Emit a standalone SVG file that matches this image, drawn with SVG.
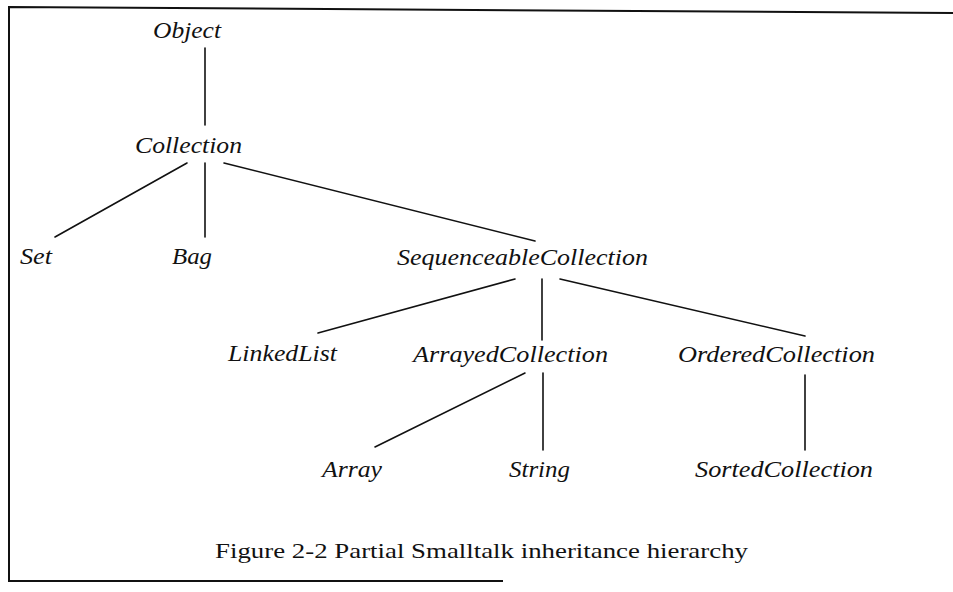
<svg xmlns="http://www.w3.org/2000/svg" width="953" height="592" viewBox="0 0 953 592">
<style>
.lbl{font-family:"Liberation Serif","Times New Roman",serif;font-style:italic;font-size:24px;fill:#111}
.cap{font-family:"Liberation Serif","Times New Roman",serif;font-size:22px;fill:#111}
.edge{stroke:#111;stroke-width:1.6;fill:none;stroke-linecap:round}
.frame{stroke:#111;stroke-width:2;fill:none}
</style>
<rect width="953" height="592" fill="#fff"/>
<g id="frame">
<path class="frame" d="M953,13 L9,7 L9,581 L503,581"/>
</g>
<g id="connectors">
<line class="edge" x1="205" y1="48" x2="205" y2="125"/>
<line class="edge" x1="187" y1="163" x2="55" y2="237"/>
<line class="edge" x1="205" y1="163" x2="205" y2="237"/>
<line class="edge" x1="224" y1="163" x2="535" y2="241"/>
<line class="edge" x1="515" y1="279" x2="318" y2="333"/>
<line class="edge" x1="542" y1="279" x2="542" y2="340"/>
<line class="edge" x1="560" y1="279" x2="805" y2="336"/>
<line class="edge" x1="525" y1="373" x2="375" y2="447"/>
<line class="edge" x1="543" y1="373" x2="543" y2="450"/>
<line class="edge" x1="805" y1="375" x2="805" y2="450"/>
</g>
<g id="Object"><text class="lbl" x="153" y="38" textLength="68" lengthAdjust="spacingAndGlyphs">Object</text></g>
<g id="Collection"><text class="lbl" x="135" y="153" textLength="107" lengthAdjust="spacingAndGlyphs">Collection</text></g>
<g id="Set"><text class="lbl" x="20" y="264" textLength="32" lengthAdjust="spacingAndGlyphs">Set</text></g>
<g id="Bag"><text class="lbl" x="172" y="264" textLength="40" lengthAdjust="spacingAndGlyphs">Bag</text></g>
<g id="SequenceableCollection"><text class="lbl" x="397" y="265" textLength="251" lengthAdjust="spacingAndGlyphs">SequenceableCollection</text></g>
<g id="LinkedList"><text class="lbl" x="228" y="361" textLength="109" lengthAdjust="spacingAndGlyphs">LinkedList</text></g>
<g id="ArrayedCollection"><text class="lbl" x="413" y="362" textLength="195" lengthAdjust="spacingAndGlyphs">ArrayedCollection</text></g>
<g id="OrderedCollection"><text class="lbl" x="678" y="362" textLength="197" lengthAdjust="spacingAndGlyphs">OrderedCollection</text></g>
<g id="Array"><text class="lbl" x="322" y="477" textLength="60" lengthAdjust="spacingAndGlyphs">Array</text></g>
<g id="String"><text class="lbl" x="509" y="477" textLength="61" lengthAdjust="spacingAndGlyphs">String</text></g>
<g id="SortedCollection"><text class="lbl" x="695" y="477" textLength="178" lengthAdjust="spacingAndGlyphs">SortedCollection</text></g>
<g id="caption"><text class="cap" x="215" y="558" textLength="533" lengthAdjust="spacingAndGlyphs">Figure 2-2 Partial Smalltalk inheritance hierarchy</text></g>
</svg>
